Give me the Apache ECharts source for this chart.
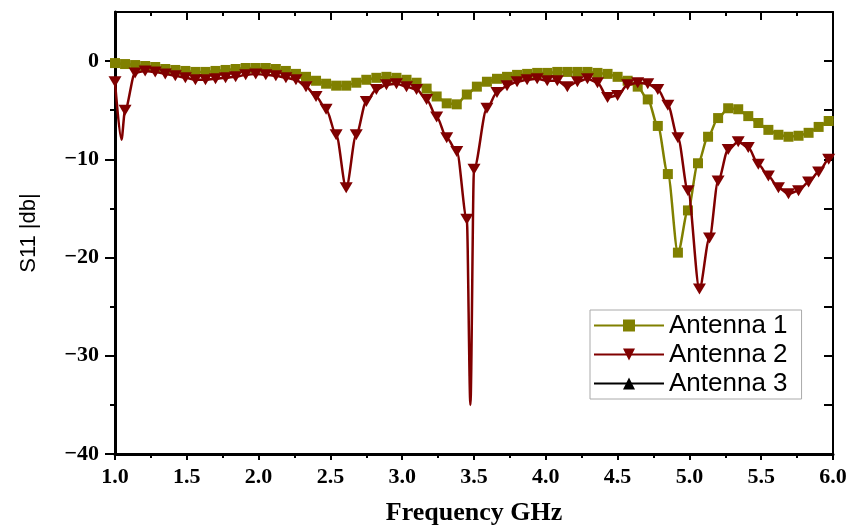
<!DOCTYPE html>
<html>
<head>
<meta charset="utf-8">
<script src="https://cdn.jsdelivr.net/npm/echarts@6/dist/echarts.min.js"></script>
<style>
  html, body { margin: 0; padding: 0; background: #fff; }
  #chart { width: 850px; height: 531px; }
</style>
</head>
<body>
<div id="chart"></div>
<script>
// Antenna 1 (marker points)
const freq1 = [1.00, 1.07, 1.14, 1.21, 1.28, 1.35, 1.42, 1.49, 1.56, 1.63, 1.70, 1.77, 1.84, 1.91, 1.98,
  2.05, 2.12, 2.19, 2.26, 2.33, 2.40, 2.47, 2.54, 2.61, 2.68, 2.75, 2.82, 2.89, 2.96, 3.03, 3.10, 3.17,
  3.24, 3.31, 3.38, 3.45, 3.52, 3.59, 3.66, 3.73, 3.80, 3.87, 3.94, 4.01, 4.08, 4.15, 4.22, 4.29, 4.36,
  4.43, 4.50, 4.57, 4.64, 4.71, 4.78, 4.85, 4.92, 4.99, 5.06, 5.13, 5.20, 5.27, 5.34, 5.41, 5.48, 5.55,
  5.62, 5.69, 5.76, 5.83, 5.90, 5.97];
const s11Ant1 = [-0.2, -0.3, -0.4, -0.5, -0.6, -0.8, -0.9, -1.0, -1.1, -1.1, -1.0, -0.9, -0.8, -0.7, -0.7,
  -0.7, -0.8, -1.0, -1.3, -1.6, -2.0, -2.3, -2.5, -2.5, -2.2, -1.9, -1.7, -1.6, -1.7, -1.9, -2.2, -2.8,
  -3.6, -4.3, -4.4, -3.4, -2.6, -2.1, -1.8, -1.6, -1.4, -1.3, -1.2, -1.2, -1.1, -1.1, -1.1, -1.1, -1.2,
  -1.3, -1.6, -2.0, -2.6, -3.9, -6.6, -11.5, -19.5, -15.2, -10.4, -7.7, -5.8, -4.8, -4.9, -5.6, -6.3, -7.0,
  -7.5, -7.7, -7.6, -7.3, -6.7, -6.1];
// Antenna 1 (line-only points)
const lineFreq1 = [6.00];
const lineS11Ant1 = [-5.9];

// Antenna 2 (marker points)
const freq2 = [1.00, 1.07, 1.14, 1.21, 1.28, 1.35, 1.42, 1.49, 1.56, 1.63, 1.70, 1.77, 1.84, 1.91, 1.98,
  2.05, 2.12, 2.19, 2.26, 2.33, 2.40, 2.47, 2.54, 2.61, 2.68, 2.75, 2.82, 2.89, 2.96, 3.03, 3.10, 3.17,
  3.24, 3.31, 3.38, 3.45, 3.50, 3.59, 3.66, 3.73, 3.80, 3.87, 3.94, 4.01, 4.08, 4.15, 4.22, 4.29, 4.36,
  4.43, 4.50, 4.57, 4.64, 4.71, 4.78, 4.85, 4.92, 4.99, 5.07, 5.14, 5.20, 5.27, 5.34, 5.41, 5.48, 5.55,
  5.62, 5.69, 5.76, 5.83, 5.90, 5.97];
const s11Ant2 = [-2.1, -5.0, -1.2, -1.0, -1.1, -1.3, -1.5, -1.7, -1.9, -1.9, -1.8, -1.7, -1.6, -1.4, -1.3,
  -1.4, -1.5, -1.7, -1.9, -2.6, -3.6, -4.9, -7.5, -12.9, -7.5, -4.1, -2.9, -2.4, -2.3, -2.6, -2.9, -3.9,
  -5.7, -7.8, -9.2, -16.1, -11.0, -4.8, -3.2, -2.5, -2.1, -1.9, -1.8, -2.0, -2.0, -2.6, -2.1, -1.8, -2.2,
  -3.7, -3.5, -2.4, -2.2, -2.3, -2.9, -4.5, -7.8, -13.2, -23.2, -18.0, -12.2, -9.0, -8.2, -8.8, -10.5, -11.7,
  -12.9, -13.5, -13.2, -12.3, -11.3, -10.0];
// Antenna 2 (line-only points)
const lineFreq2 = [1.045, 3.475, 6.00];
const lineS11Ant2 = [-8.0, -35.0, -9.6];

// Antenna 3 has no visible trace
const freq3 = [];
const s11Ant3 = [];

const yMajor = [-40, -30, -20, -10, 0];
const yMinor = [-35, -25, -15, -5];

function buildData(fx, fy, lx, ly) {
  const pts = [];
  fx.forEach((x, i) => pts.push({ value: [x, fy[i]] }));
  lx.forEach((x, i) => pts.push({ value: [x, ly[i]], symbol: 'none' }));
  pts.sort((a, b) => a.value[0] - b.value[0]);
  return pts;
}

const chart = echarts.init(document.getElementById('chart'));

const tickFont = { fontFamily: 'Liberation Serif', fontWeight: 'bold', fontSize: 22, color: '#000' };

const option = {
  animation: false,
  grid: { left: 115, right: 17, top: 12, bottom: 74 },
  legend: {
    orient: 'vertical',
    left: 590,
    top: 310,
    itemWidth: 70,
    itemHeight: 15,
    itemGap: 2,
    padding: [2, 14, 2, 3],
    backgroundColor: '#fff',
    borderColor: '#aaa',
    borderWidth: 1,
    textStyle: { fontFamily: 'Liberation Sans', fontSize: 26, color: '#000', lineHeight: 27 },
    data: ['Antenna 1', 'Antenna 2', 'Antenna 3']
  },
  xAxis: [{
    type: 'value',
    position: 'bottom',
    min: 1, max: 6, interval: 0.5,
    name: 'Frequency GHz',
    nameLocation: 'middle',
    nameGap: 46,
    nameTextStyle: { fontFamily: 'Liberation Serif', fontWeight: 'bold', fontSize: 26, color: '#000' },
    axisLine: { onZero: false, lineStyle: { color: '#000', width: 3 } },
    axisTick: { length: 6, lineStyle: { color: '#000', width: 2 } },
    minorTick: { show: true, splitNumber: 2, length: 4, lineStyle: { color: '#000', width: 2 } },
    axisLabel: Object.assign({ margin: 12, formatter: v => v.toFixed(1) }, tickFont),
    splitLine: { show: false }
  }, {
    type: 'value',
    position: 'top',
    min: 1, max: 6, interval: 0.5,
    axisLine: { onZero: false, lineStyle: { color: '#000', width: 2 } },
    axisTick: { inside: true, length: 8, lineStyle: { color: '#000', width: 2 } },
    minorTick: { show: true, splitNumber: 2, length: 4, lineStyle: { color: '#000', width: 2 } },
    axisLabel: { show: false },
    splitLine: { show: false }
  }],
  yAxis: [{
    type: 'value',
    position: 'left',
    min: -40, max: 5, interval: 10,
    name: 'S11 |db|',
    nameLocation: 'middle',
    nameGap: 75,
    nameTextStyle: { fontFamily: 'Liberation Sans', fontSize: 22, color: '#000' },
    axisLine: { onZero: false, lineStyle: { color: '#000', width: 3 } },
    axisTick: { length: 10, customValues: yMajor, lineStyle: { color: '#000', width: 2 } },
    axisLabel: Object.assign({ margin: 16, customValues: yMajor, formatter: v => (v < 0 ? '\u2212' + Math.abs(v) : String(v)) }, tickFont),
    splitLine: { show: false }
  }, {
    type: 'value',
    position: 'left',
    min: -40, max: 5,
    axisLine: { show: false, onZero: false },
    axisTick: { length: 5, customValues: yMinor, lineStyle: { color: '#000', width: 2 } },
    axisLabel: { show: false },
    splitLine: { show: false }
  }, {
    type: 'value',
    position: 'right',
    min: -40, max: 5,
    axisLine: { show: true, onZero: false, lineStyle: { color: '#000', width: 2 } },
    axisTick: { show: true, inside: true, length: 9, customValues: yMajor.concat(yMinor), lineStyle: { color: '#000', width: 2 } },
    axisLabel: { show: false },
    splitLine: { show: false }
  }],
  series: [{
    name: 'Antenna 1',
    type: 'line',
    smooth: 0.3,
    smoothMonotone: 'x',
    symbol: 'rect',
    symbolSize: 10,
    showAllSymbol: true,
    color: '#808000',
    lineStyle: { width: 2.5, color: '#808000' },
    itemStyle: { color: '#808000' },
    data: buildData(freq1, s11Ant1, lineFreq1, lineS11Ant1),
    z: 2
  }, {
    name: 'Antenna 2',
    type: 'line',
    smooth: 0.3,
    smoothMonotone: 'x',
    symbol: 'triangle',
    symbolRotate: 180,
    symbolSize: [13, 11],
    showAllSymbol: true,
    color: '#800000',
    lineStyle: { width: 2.5, color: '#800000' },
    itemStyle: { color: '#800000' },
    data: buildData(freq2, s11Ant2, lineFreq2, lineS11Ant2),
    z: 3
  }, {
    name: 'Antenna 3',
    type: 'line',
    symbol: 'triangle',
    symbolSize: 12,
    color: '#000',
    lineStyle: { width: 2.5, color: '#000' },
    itemStyle: { color: '#000' },
    data: freq3.map((x, i) => [x, s11Ant3[i]])
  }]
};

chart.setOption(option);
</script>
</body>
</html>
